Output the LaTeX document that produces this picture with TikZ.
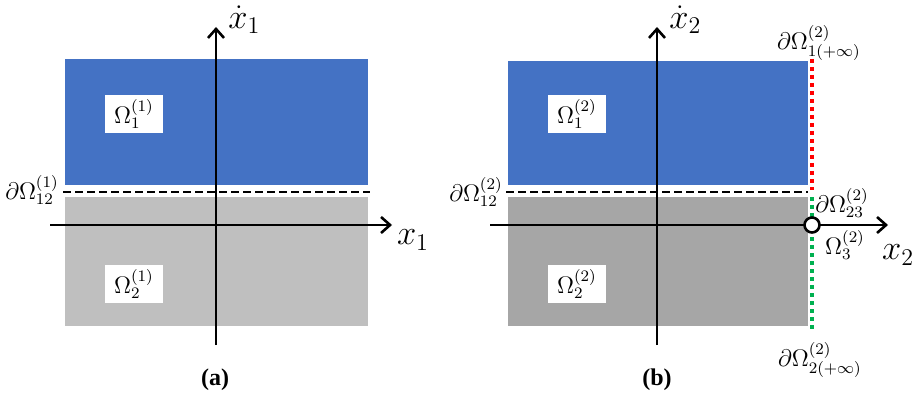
\documentclass[tikz,border=0pt]{standalone}
\usepackage{fontspec}
\setmainfont{Liberation Serif}
\usetikzlibrary{arrows.meta,positioning}
\definecolor{regBlue}{HTML}{4472C4}
\definecolor{regGreyA}{HTML}{BFBFBF}
\definecolor{regGreyB}{HTML}{A6A6A6}
\definecolor{bndRed}{HTML}{FF0000}
\definecolor{bndGreen}{HTML}{00B050}

\begin{document}
\begin{tikzpicture}[x=0.5pt,y=-0.5pt,
  axis/.style={-{Straight Barb[length=4.5pt,width=8pt,line width=1.3pt]},line width=1.3pt},
  sep/.style={line width=1pt,dash pattern=on 4pt off 2pt},
  dots/.style={line width=2pt,dash pattern=on 2pt off 2pt},
  tag/.style={fill=white,minimum width=29pt,minimum height=19pt,inner sep=0pt,font=\large},
  lb/.style={inner sep=0pt,font=\fontsize{11.5}{13}\selectfont},
  ax/.style={inner sep=0pt,font=\LARGE},
  caplabel/.style={inner sep=0pt,font=\large\bfseries}]
\useasboundingbox (0,0) rectangle (913,395);

% panel (a)
\fill[regBlue]  (65,59) rectangle (368,185);
\fill[regGreyA] (65,197) rectangle (368,326);
\draw[sep] (63,192) -- (370,192);
\coordinate (ha0) at (50,225);  \coordinate (ha1) at (392,225);
\coordinate (va0) at (216,345); \coordinate (va1) at (216,27);
\draw[axis] (ha0) -- (ha1);
\draw[axis] (va0) -- (va1);
\node[tag] (a1) at (134,114) {$\Omega_1^{(1)}$};
\node[tag] (a2) at (134,284) {$\Omega_2^{(1)}$};
\node[lb]  (a12) at (32,190) {$\partial\Omega_{12}^{(1)}$};
\node[ax]  (ax1) at (413,240) {$x_1$};
\node[ax,anchor=west] (av1) at (228,20) {$\dot{x}_1$};
\node[caplabel] (capa) at (215,380) {(a)};

% panel (b)
\fill[regBlue]  (508,61) rectangle (808,185);
\fill[regGreyB] (508,197) rectangle (808,326);
\draw[sep] (506,192) -- (808,192);
\coordinate (hb0) at (490,225); \coordinate (hb1) at (888,225);
\coordinate (vb0) at (657,345); \coordinate (vb1) at (657,27);
\draw[axis] (hb0) -- (hb1);
\draw[axis] (vb0) -- (vb1);
\coordinate (rd0) at (812,59);  \coordinate (rd1) at (812,190);
\coordinate (gd0) at (812,197); \coordinate (gd1) at (812,329);
\draw[dots,bndRed] (rd0) -- (rd1);
\draw[dots,bndGreen] (gd0) -- (gd1);
\node[circle,draw,fill=white,line width=1.3pt,minimum size=7.5pt,inner sep=0pt] (pt) at (812,225) {};
\node[tag] (b1) at (577,114) {$\Omega_1^{(2)}$};
\node[tag] (b2) at (577,284) {$\Omega_2^{(2)}$};
\node[lb]  (b12) at (476,192) {$\partial\Omega_{12}^{(2)}$};
\node[lb]  (b1inf) at (819,43) {$\partial\Omega_{1(+\infty)}^{(2)}$};
\node[lb]  (b23) at (842,203) {$\partial\Omega_{23}^{(2)}$};
\node[lb]  (b3) at (845,245) {$\Omega_3^{(2)}$};
\node[lb]  (b2inf) at (820,360) {$\partial\Omega_{2(+\infty)}^{(2)}$};
\node[ax]  (bx2) at (898,255) {$x_2$};
\node[ax,anchor=west] (bv2) at (669,20) {$\dot{x}_2$};
\node[caplabel] (capb) at (657,380) {(b)};
\end{tikzpicture}
\end{document}
